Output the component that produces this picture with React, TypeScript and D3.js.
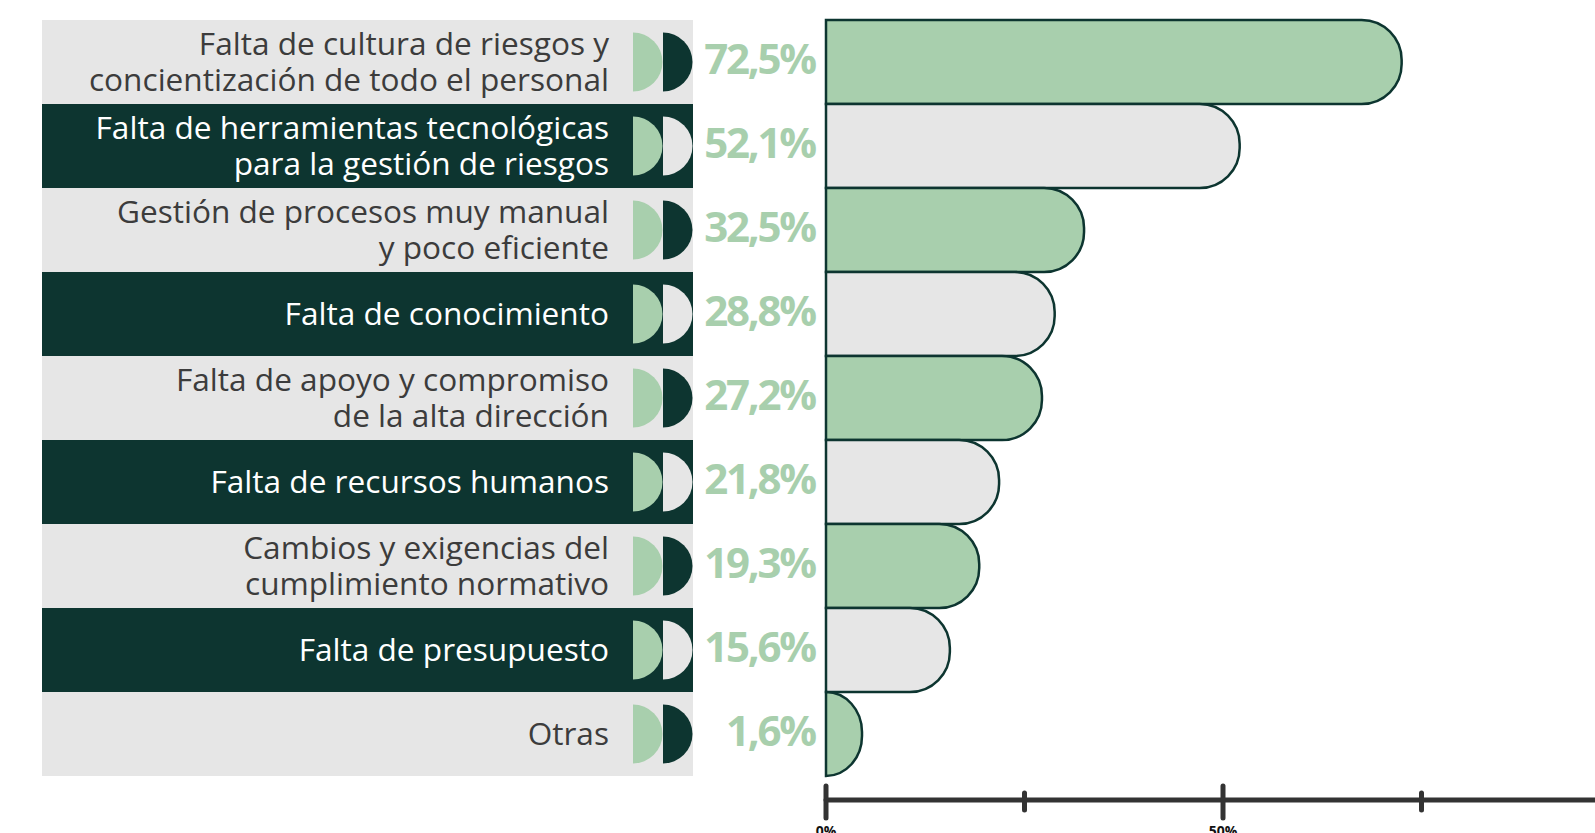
import React from "react";
import * as d3 from "d3";

const categories = [
  "Falta de cultura de riesgos y\nconcientización de todo el personal",
  "Falta de herramientas tecnológicas\npara la gestión de riesgos",
  "Gestión de procesos muy manual\ny poco eficiente",
  "Falta de conocimiento",
  "Falta de apoyo y compromiso\nde la alta dirección",
  "Falta de recursos humanos",
  "Cambios y exigencias del\ncumplimiento normativo",
  "Falta de presupuesto",
  "Otras",
];
const values = [72.5, 52.1, 32.5, 28.8, 27.2, 21.8, 19.3, 15.6, 1.6];
const axisTicks = [0, 25, 50, 75, 100];

const GREEN = "#a8cfad";
const DARK = "#0d3530";
const GRAY = "#e6e6e6";
const TEXT = "#3c3c3c";

const W = 1595;
const H = 833;

function barPath(x0: number, x1: number, y0: number, h: number, r: number) {
  const w = x1 - x0;
  const rx = Math.min(r, w);
  const ry = Math.min(r, h / 2);
  return (
    `M${x0},${y0}H${x1 - rx}` +
    `A${rx},${ry} 0 0 1 ${x1},${y0 + ry}` +
    `V${y0 + h - ry}` +
    `A${rx},${ry} 0 0 1 ${x1 - rx},${y0 + h}` +
    `H${x0}Z`
  );
}

export default function App() {
  const y = d3.scaleBand<string>().domain(categories).range([20, 776]).padding(0);
  const x = d3.scaleLinear().domain([0, 100]).range([826, 1620]);
  const bh = y.bandwidth();
  const minBar = 36;
  const fmt = (v: number) => d3.format(".1f")(v).replace(".", ",") + "%";

  return (
    <svg
      width={W}
      height={H}
      style={{ position: "fixed", left: 0, top: 0, background: "#fff" }}
      fontFamily="'Open Sans', sans-serif"
    >
      {categories.map((c, i) => {
        const top = y(c)!;
        const cy = top + bh / 2;
        const even = i % 2 === 0;
        const lines = c.split("\n");
        const lh = 36;
        const firstBase = cy + 11 - ((lines.length - 1) * lh) / 2;
        const x1 = Math.max(x(values[i]), x(0) + minBar);
        return (
          <g key={c}>
            <rect x={42} y={top} width={651} height={bh} fill={even ? GRAY : DARK} />
            {lines.map((l, j) => (
              <text
                key={j}
                x={609}
                y={firstBase + j * lh}
                textAnchor="end"
                fontSize={31.6}
                fill={even ? TEXT : "#ffffff"}
              >
                {l}
              </text>
            ))}
            <path
              d={`M633,${cy - 29.5}A29.5,29.5 0 0 1 633,${cy + 29.5}Z`}
              fill={GREEN}
            />
            <path
              d={`M663,${cy - 29.5}A29.5,29.5 0 0 1 663,${cy + 29.5}Z`}
              fill={even ? DARK : GRAY}
            />
            <text
              x={815}
              y={cy + 12}
              textAnchor="end"
              fontSize={42}
              fontWeight={700}
              letterSpacing={-2.2}
              fill={GREEN}
            >
              {fmt(values[i])}
            </text>
            <path
              d={barPath(x(0), x1, top, bh, 40)}
              fill={even ? GREEN : GRAY}
              stroke={DARK}
              strokeWidth={2.5}
            />
          </g>
        );
      })}

      <g>
        <line x1={x(0)} x2={x(100)} y1={800} y2={800} stroke="#333" strokeWidth={5} strokeLinecap="round" />
        {axisTicks.map((t) => {
          const major = t % 50 === 0;
          return (
            <g key={t} transform={`translate(${x(t)},0)`}>
              <line
                y1={major ? 786 : 793}
                y2={major ? 818 : 810}
                stroke="#333"
                strokeWidth={5}
                strokeLinecap="round"
              />
              {major && (
                <text y={836} textAnchor="middle" fontSize={14} fontWeight={700} fill="#111">
                  {t}%
                </text>
              )}
            </g>
          );
        })}
      </g>
    </svg>
  );
}
